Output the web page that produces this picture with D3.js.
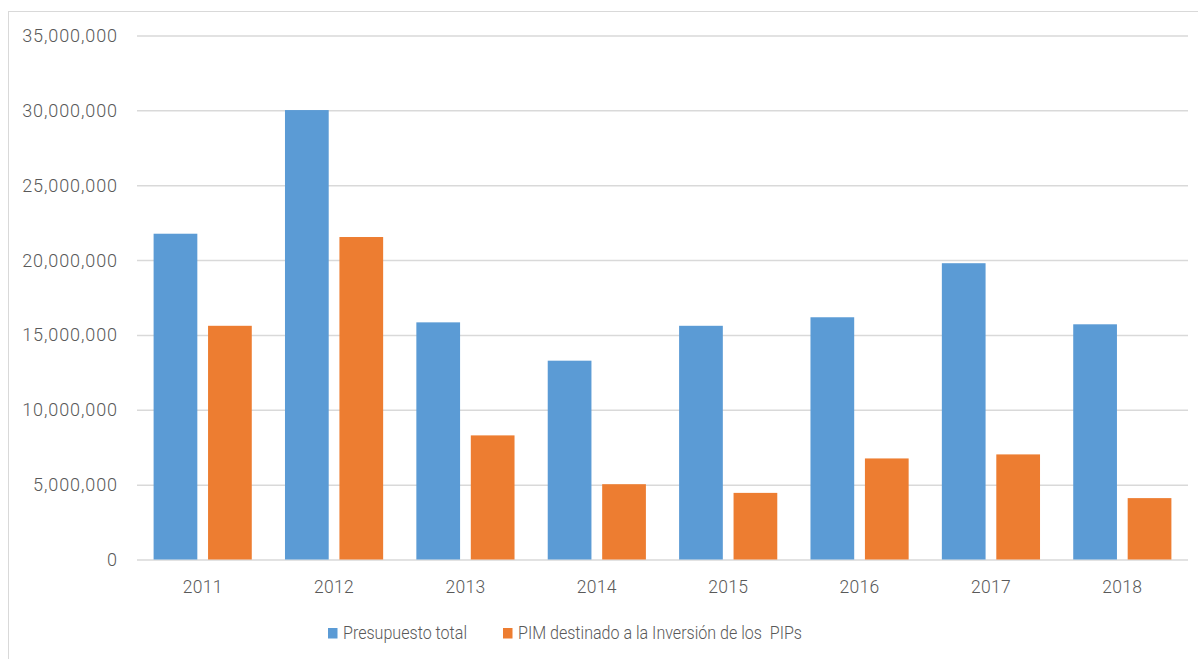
<!DOCTYPE html>
<html>
<head>
<meta charset="utf-8">
<script src="https://cdn.jsdelivr.net/npm/d3@7"></script>
<style>
  html, body { margin: 0; padding: 0; background: #fff; }
  svg { display: block; }
  text { font-family: "Roboto", "Liberation Sans", sans-serif; font-weight: 300; fill: #595959; }
</style>
</head>
<body>
<svg id="chart" width="1198" height="659"></svg>
<script>
const categories = ["2011", "2012", "2013", "2014", "2015", "2016", "2017", "2018"];
const seriesNames = ["Presupuesto total", "PIM destinado a la Inversión de los  PIPs"];
const presupuestoTotal = [21760000, 30020000, 15840000, 13280000, 15610000, 16180000, 19790000, 15710000];
const pimInversion = [15610000, 21540000, 8290000, 5030000, 4450000, 6750000, 7020000, 4100000];
const yTicks = [0, 5000000, 10000000, 15000000, 20000000, 25000000, 30000000, 35000000];
const colors = ["#5b9bd5", "#ed7d31"];

const svg = d3.select("#chart");

// outer chart border
svg.append("rect")
  .attr("x", 8.5).attr("y", 11.5)
  .attr("width", 1210).attr("height", 670)
  .attr("fill", "none").attr("stroke", "#d9d9d9").attr("stroke-width", 1);

const plotLeft = 137, plotRight = 1188, plotTop = 35.5, plotBottom = 559.5;

const y = d3.scaleLinear().domain([0, 35000000]).range([plotBottom, plotTop]);
const x0 = d3.scaleBand().domain(categories).range([plotLeft, plotRight]).padding(0);
const outer = 16.6;
const x1 = d3.scaleBand().domain([0, 1])
  .range([outer, x0.bandwidth() - outer]).paddingInner(0.197).paddingOuter(0);

// gridlines
const yAxis = d3.axisLeft(y).tickValues(yTicks)
  .tickSize(-(plotRight - plotLeft)).tickPadding(19)
  .tickFormat(d3.format(","));
const gy = svg.append("g").attr("transform", `translate(${plotLeft},0)`).call(yAxis);
gy.select(".domain").remove();
gy.selectAll(".tick line").attr("stroke", "#d9d9d9").attr("stroke-width", 1.5);
gy.selectAll(".tick text")
  .attr("font-size", 18).attr("letter-spacing", 0.9).attr("fill", "#595959")
  .attr("font-family", null)
  .attr("dy", "0.33em");

// bars
const data = categories.map((c, i) => ({ cat: c, vals: [presupuestoTotal[i], pimInversion[i]] }));
const groups = svg.append("g").selectAll("g").data(data).join("g")
  .attr("transform", d => `translate(${x0(d.cat)},0)`);
groups.selectAll("rect").data(d => d.vals.map((v, k) => ({ v, k })))
  .join("rect")
  .attr("x", d => x1(d.k))
  .attr("width", x1.bandwidth())
  .attr("y", d => y(d.v))
  .attr("height", d => y(0) - y(d.v))
  .attr("fill", d => colors[d.k]);

// x axis labels
const xAxis = d3.axisBottom(x0).tickSize(0).tickPadding(21);
const gx = svg.append("g").attr("transform", `translate(0,${plotBottom})`).call(xAxis);
gx.select(".domain").remove();
gx.selectAll(".tick text").attr("font-size", 17.5).attr("letter-spacing", 0.3)
  .attr("font-family", null).attr("fill", "#595959");

// legend
const legendItems = [
  { name: seriesNames[0], color: colors[0], x: 328, len: 124 },
  { name: seriesNames[1], color: colors[1], x: 503, len: 284 }
];
const lg = svg.append("g");
legendItems.forEach(it => {
  lg.append("rect").attr("x", it.x).attr("y", 628).attr("width", 9.5).attr("height", 10.5).attr("fill", it.color);
  lg.append("text").attr("x", it.x + 15).attr("y", 633).attr("dy", "0.35em")
    .attr("font-size", 18).attr("fill", "#595959")
    .attr("textLength", it.len).attr("lengthAdjust", "spacingAndGlyphs")
    .attr("xml:space", "preserve").style("white-space", "pre")
    .text(it.name);
});
</script>
</body>
</html>
